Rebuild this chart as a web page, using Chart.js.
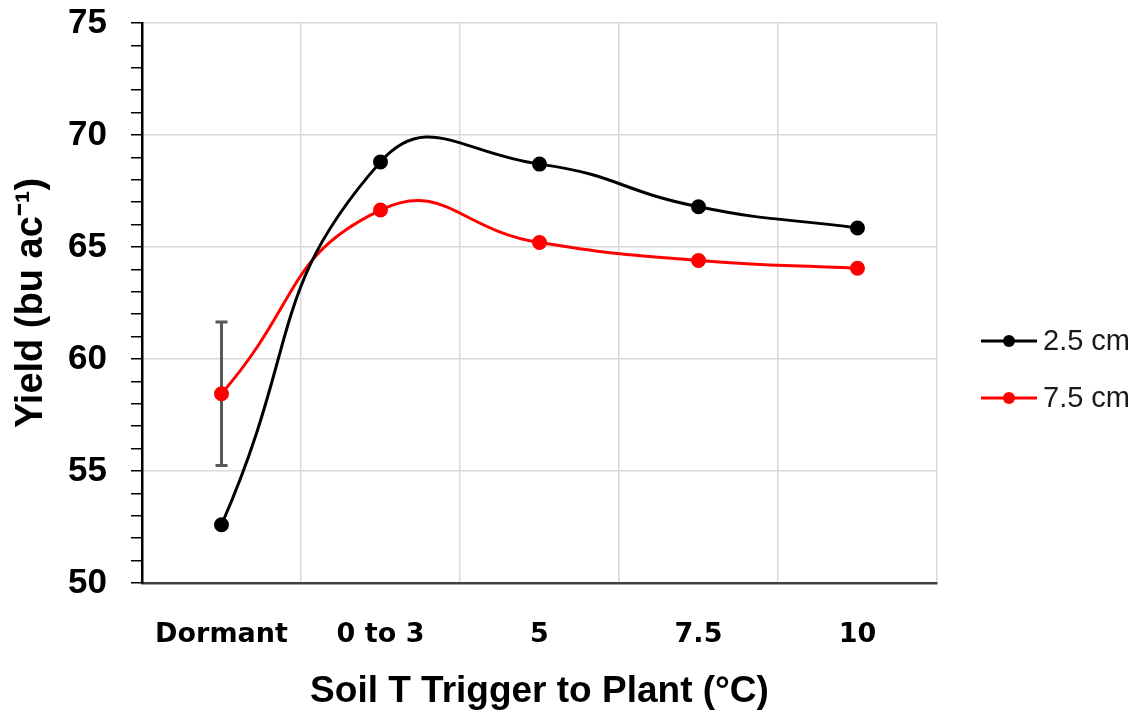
<!DOCTYPE html>
<html>
<head>
<meta charset="utf-8">
<script src="https://cdn.jsdelivr.net/npm/chart.js@4.4.0/dist/chart.umd.min.js"></script>
<style>
    html, body { margin: 0; padding: 0; background: #fff; }
    #wrap { width: 1134px; height: 714px; position: relative; }
</style>
</head>
<body>
<div id="wrap"><canvas id="yieldChart" width="1134" height="714"></canvas></div>
<script>
const categories = ['Dormant', '0 to 3', '5', '7.5', '10'];
const depthShallow = [52.6, 68.8, 68.7, 66.8, 65.85];
const depthDeep = [58.45, 66.65, 65.2, 64.4, 64.05];
const depthDeepError = [3.2, null, null, null, null];
const seriesLabels = ['2.5 cm', '7.5 cm'];
const yMinorTicks = [50, 51, 52, 53, 54, 55, 56, 57, 58, 59, 60, 61, 62, 63, 64, 65, 66, 67, 68, 69, 70, 71, 72, 73, 74, 75];
const yTickLabels = ['50', '55', '60', '65', '70', '75'];

// error bar drawn behind the points, through the chart's scales
const errorBarPlugin = {
    id: 'errorBars',
    beforeDatasetsDraw(chart) {
        const ctx = chart.ctx;
        const xScale = chart.scales.x;
        const yScale = chart.scales.y;
        ctx.save();
        ctx.strokeStyle = '#595959';
        ctx.lineWidth = 3;
        depthDeepError.forEach((err, i) => {
            if (err == null) return;
            const x = xScale.getPixelForValue(i);
            const top = yScale.getPixelForValue(depthDeep[i] + err);
            const bottom = yScale.getPixelForValue(depthDeep[i] - err);
            ctx.beginPath();
            ctx.moveTo(x, top);
            ctx.lineTo(x, bottom);
            ctx.moveTo(x - 6, top);
            ctx.lineTo(x + 6, top);
            ctx.moveTo(x - 6, bottom);
            ctx.lineTo(x + 6, bottom);
            ctx.stroke();
        });
        ctx.restore();
    }
};

// legend at the right, line with a dot like the original
const sideLegendPlugin = {
    id: 'sideLegend',
    afterDraw(chart) {
        const ctx = chart.ctx;
        const area = chart.chartArea;
        const x0 = area.right + 44;
        ctx.save();
        ctx.font = '29px "Liberation Sans", Arial, sans-serif';
        ctx.textBaseline = 'middle';
        ctx.textAlign = 'left';
        chart.data.datasets.forEach((ds, i) => {
            const y = area.top + 318 + i * 57;
            ctx.strokeStyle = ds.borderColor;
            ctx.lineWidth = 3;
            ctx.beginPath();
            ctx.moveTo(x0, y);
            ctx.lineTo(x0 + 56, y);
            ctx.stroke();
            ctx.fillStyle = ds.borderColor;
            ctx.beginPath();
            ctx.arc(x0 + 28, y, 6, 0, Math.PI * 2);
            ctx.fill();
            ctx.fillStyle = '#1a1a1a';
            ctx.fillText(ds.label, x0 + 62, y + 1);
        });
        ctx.restore();
    }
};

const ctx = document.getElementById('yieldChart').getContext('2d');
new Chart(ctx, {
    type: 'line',
    data: {
        labels: categories,
        datasets: [{
            label: seriesLabels[0],
            data: depthShallow,
            borderColor: '#000000',
            backgroundColor: '#000000',
            borderWidth: 3,
            pointRadius: 6,
            pointHoverRadius: 6,
            tension: 0.5
        }, {
            label: seriesLabels[1],
            data: depthDeep,
            borderColor: '#ff0000',
            backgroundColor: '#ff0000',
            borderWidth: 3,
            pointRadius: 6,
            pointHoverRadius: 6,
            tension: 0.5
        }]
    },
    options: {
        responsive: false,
        animation: false,
        devicePixelRatio: 1,
        layout: {
            padding: { top: 23, right: 197, left: 0, bottom: 0 }
        },
        scales: {
            x: {
                offset: true,
                afterFit: axis => {
                    axis.height = 131;
                    axis.paddingLeft = 0;
                    axis.paddingRight = 0;
                },
                grid: {
                    offset: true,
                    color: '#d9d9d9',
                    lineWidth: 1.5,
                    drawTicks: false
                },
                border: { color: '#404040', width: 2.5 },
                ticks: {
                    padding: 36,
                    color: '#000',
                    font: { family: '"DejaVu Sans", sans-serif', size: 27, weight: 'bold' }
                },
                title: {
                    display: true,
                    text: 'Soil T Trigger to Plant (°C)',
                    color: '#000',
                    padding: { top: 0, bottom: 0 },
                    font: { family: '"Liberation Sans", Arial, sans-serif', size: 37, weight: 'bold' }
                }
            },
            y: {
                min: 50,
                max: 75,
                afterFit: axis => {
                    axis.width = 142;
                    axis.paddingTop = 0;
                    axis.paddingBottom = 0;
                },
                afterBuildTicks: axis => {
                    axis.ticks = yMinorTicks.map(v => ({ value: v }));
                },
                grid: {
                    color: c => yTickLabels.includes(String(c.tick.value)) ? '#d9d9d9' : 'rgba(0,0,0,0)',
                    lineWidth: 1.5,
                    tickColor: '#000',
                    tickLength: 11,
                    tickWidth: 1.5
                },
                border: { color: '#000', width: 2.5 },
                ticks: {
                    autoSkip: false,
                    padding: 24,
                    color: '#000',
                    font: { family: '"Liberation Sans", Arial, sans-serif', size: 35, weight: 'bold' },
                    callback: value => yTickLabels.includes(String(value)) ? String(value) : ''
                },
                title: {
                    display: true,
                    text: 'Yield (bu ac⁻¹)',
                    color: '#000',
                    padding: { top: 9, bottom: 0 },
                    font: { family: '"Liberation Sans", Arial, sans-serif', size: 38, weight: 'bold' }
                }
            }
        },
        plugins: {
            legend: { display: false },
            tooltip: { enabled: false }
        }
    },
    plugins: [errorBarPlugin, sideLegendPlugin]
});
</script>
</body>
</html>
